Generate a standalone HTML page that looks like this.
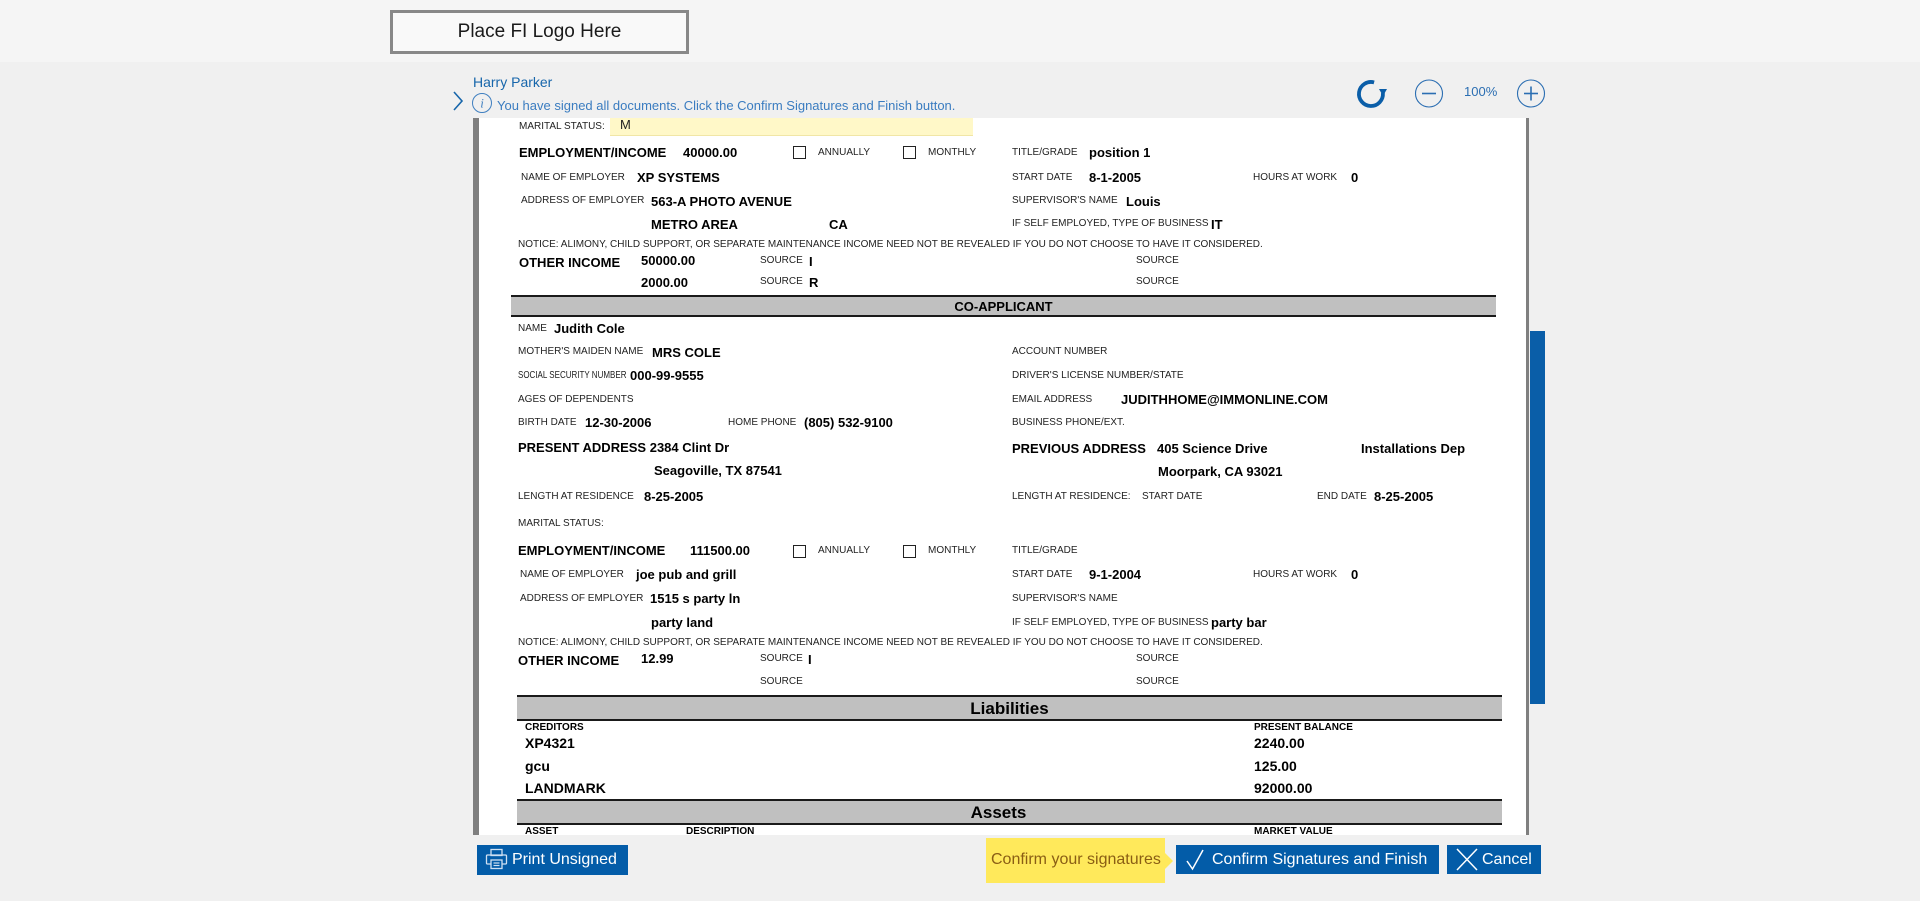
<!DOCTYPE html>
<html><head><meta charset="utf-8">
<style>
html,body{margin:0;padding:0;}
body{width:1920px;height:901px;position:relative;overflow:hidden;background:#f0f0f0;font-family:"Liberation Sans",Arial,sans-serif;}
.abs{position:absolute;white-space:nowrap;}
.l{position:absolute;white-space:nowrap;font-size:10px;line-height:10px;color:#222;}
.v{position:absolute;white-space:nowrap;font-size:13px;line-height:13px;font-weight:bold;color:#000;}
.w{position:absolute;white-space:nowrap;font-size:14px;line-height:14px;font-weight:bold;color:#000;}
.cb{position:absolute;width:13px;height:13px;box-sizing:border-box;border:1.6px solid #222;background:#fff;}
.bar{position:absolute;background:#c0c0c0;border-top:2px solid #1a1a1a;border-bottom:2px solid #1a1a1a;text-align:center;font-weight:bold;color:#000;}
.btn{position:absolute;background:#035ca8;color:#fff;font-size:16px;}
.sq{transform:scaleX(0.8);transform-origin:0 0;}
</style></head>
<body>
<!-- header -->
<div class="abs" style="left:0;top:0;width:1920px;height:62px;background:#f5f5f5;"></div>
<div class="abs" style="left:390px;top:10px;width:293px;height:38px;border:3px solid #888;background:#f9f9f9;text-align:center;font-size:19px;line-height:38px;color:#1a1a1a;">Place FI Logo Here</div>

<!-- user/title -->
<div class="abs" style="left:473px;top:74px;font-size:14px;line-height:16px;color:#1766ab;">Harry Parker</div>
<svg class="abs" style="left:450px;top:90px" width="16" height="22"><polyline points="4,2 12,11 4,20" fill="none" stroke="#1766ab" stroke-width="1.6"/></svg>
<svg class="abs" style="left:471px;top:92px" width="22" height="22"><circle cx="11" cy="11" r="9.5" fill="none" stroke="#3f7fc0" stroke-width="1"/><text x="11" y="15.5" text-anchor="middle" font-family="Liberation Serif,serif" font-style="italic" font-size="13" fill="#3f7fc0">i</text></svg>
<div class="abs" style="left:497px;top:98px;font-size:13px;line-height:16px;color:#3a7cc0;">You have signed all documents. Click the Confirm Signatures and Finish button.</div>

<!-- toolbar icons -->
<svg class="abs" style="left:1350px;top:74px" width="200" height="40">
  <path d="M 1374.1 82.4 A 12 12 0 1 0 1382.9 93" transform="translate(-1350,-74)" fill="none" stroke="#0b5ea8" stroke-width="3.8"/>
  <polygon points="29,15 37,15 33,22" fill="#0b5ea8"/>
  <circle cx="79" cy="19.5" r="13.5" fill="none" stroke="#2b6eb2" stroke-width="1.1"/>
  <line x1="72" y1="19.5" x2="86" y2="19.5" stroke="#2b6eb2" stroke-width="1.6"/>
  <circle cx="181" cy="19.5" r="13.5" fill="none" stroke="#2b6eb2" stroke-width="1.1"/>
  <line x1="174" y1="19.5" x2="188" y2="19.5" stroke="#2b6eb2" stroke-width="1.6"/>
  <line x1="181" y1="12.5" x2="181" y2="26.5" stroke="#2b6eb2" stroke-width="1.6"/>
</svg>
<div class="abs" style="left:1464px;top:85px;font-size:13px;line-height:14px;color:#2b6eb2;">100%</div>

<!-- document viewport -->
<div class="abs" style="left:473px;top:118px;width:6px;height:717px;background:#7f7f7f;"></div>
<div class="abs" style="left:479px;top:118px;width:1047px;height:717px;background:#fff;"></div>
<div class="abs" style="left:1526px;top:118px;width:3px;height:717px;background:#7f7f7f;"></div>
<div class="abs" style="left:1530px;top:331px;width:15px;height:373px;background:#0a5ea8;"></div>

<div style="position:absolute;left:0;top:0;width:1920px;height:901px;clip-path:inset(118px 394px 66px 479px);">
<!-- section 1 -->
<span class="l" style="left:519px;top:122px">MARITAL STATUS:</span>
<div class="abs" style="left:610px;top:118px;width:363px;height:17px;background:#fff8c8;border-bottom:1px solid #f1e6a6;"></div>
<span class="abs" style="left:620px;top:118px;font-size:13px;line-height:14px;color:#222;">M</span>

<span class="v" style="left:519px;top:146px">EMPLOYMENT/INCOME</span>
<span class="v" style="left:683px;top:146px">40000.00</span>
<div class="cb" style="left:793px;top:146px"></div>
<span class="l" style="left:818px;top:148px">ANNUALLY</span>
<div class="cb" style="left:903px;top:146px"></div>
<span class="l" style="left:928px;top:148px">MONTHLY</span>
<span class="l" style="left:1012px;top:148px">TITLE/GRADE</span>
<span class="v" style="left:1089px;top:146px">position 1</span>

<span class="l" style="left:521px;top:173px">NAME OF EMPLOYER</span>
<span class="v" style="left:637px;top:171px">XP SYSTEMS</span>
<span class="l" style="left:1012px;top:173px">START DATE</span>
<span class="v" style="left:1089px;top:171px">8-1-2005</span>
<span class="l" style="left:1253px;top:173px">HOURS AT WORK</span>
<span class="v" style="left:1351px;top:171px">0</span>

<span class="l" style="left:521px;top:196px">ADDRESS OF EMPLOYER</span>
<span class="v" style="left:651px;top:195px">563-A PHOTO AVENUE</span>
<span class="l" style="left:1012px;top:196px">SUPERVISOR'S NAME</span>
<span class="v" style="left:1126px;top:195px">Louis</span>

<span class="v" style="left:651px;top:218px">METRO AREA</span>
<span class="v" style="left:829px;top:218px">CA</span>
<span class="l" style="left:1012px;top:219px">IF SELF EMPLOYED, TYPE OF BUSINESS</span>
<span class="v" style="left:1211px;top:218px">IT</span>

<span class="l" style="left:518px;top:240px">NOTICE: ALIMONY, CHILD SUPPORT, OR SEPARATE MAINTENANCE INCOME NEED NOT BE REVEALED IF YOU DO NOT CHOOSE TO HAVE IT CONSIDERED.</span>

<span class="v" style="left:519px;top:256px">OTHER INCOME</span>
<span class="v" style="left:641px;top:254px">50000.00</span>
<span class="l" style="left:760px;top:256px">SOURCE</span>
<span class="v" style="left:809px;top:255px">I</span>
<span class="l" style="left:1136px;top:256px">SOURCE</span>

<span class="v" style="left:641px;top:276px">2000.00</span>
<span class="l" style="left:760px;top:277px">SOURCE</span>
<span class="v" style="left:809px;top:276px">R</span>
<span class="l" style="left:1136px;top:277px">SOURCE</span>

<div class="bar" style="left:511px;top:295px;width:985px;height:18px;font-size:13px;line-height:19px;">CO-APPLICANT</div>

<!-- section 2 -->
<span class="l" style="left:518px;top:324px">NAME</span>
<span class="v" style="left:554px;top:322px">Judith Cole</span>

<span class="l" style="left:518px;top:347px">MOTHER'S MAIDEN NAME</span>
<span class="v" style="left:652px;top:346px">MRS COLE</span>
<span class="l" style="left:1012px;top:347px">ACCOUNT NUMBER</span>

<span class="l sq" style="left:518px;top:371px">SOCIAL SECURITY NUMBER</span>
<span class="v" style="left:630px;top:369px">000-99-9555</span>
<span class="l" style="left:1012px;top:371px">DRIVER'S LICENSE NUMBER/STATE</span>

<span class="l" style="left:518px;top:395px">AGES OF DEPENDENTS</span>
<span class="l" style="left:1012px;top:395px">EMAIL ADDRESS</span>
<span class="v" style="left:1121px;top:393px">JUDITHHOME@IMMONLINE.COM</span>

<span class="l" style="left:518px;top:418px">BIRTH DATE</span>
<span class="v" style="left:585px;top:416px">12-30-2006</span>
<span class="l" style="left:728px;top:418px">HOME PHONE</span>
<span class="v" style="left:804px;top:416px">(805) 532-9100</span>
<span class="l" style="left:1012px;top:418px">BUSINESS PHONE/EXT.</span>

<span class="v" style="left:518px;top:441px">PRESENT ADDRESS 2384 Clint Dr</span>
<span class="v" style="left:1012px;top:442px">PREVIOUS ADDRESS</span>
<span class="v" style="left:1157px;top:442px">405 Science Drive</span>
<span class="v" style="left:1361px;top:442px">Installations Dep</span>

<span class="v" style="left:654px;top:464px">Seagoville, TX 87541</span>
<span class="v" style="left:1158px;top:465px">Moorpark, CA 93021</span>

<span class="l" style="left:518px;top:492px">LENGTH AT RESIDENCE</span>
<span class="v" style="left:644px;top:490px">8-25-2005</span>
<span class="l" style="left:1012px;top:492px">LENGTH AT RESIDENCE:</span>
<span class="l" style="left:1142px;top:492px">START DATE</span>
<span class="l" style="left:1317px;top:492px">END DATE</span>
<span class="v" style="left:1374px;top:490px">8-25-2005</span>

<span class="l" style="left:518px;top:519px">MARITAL STATUS:</span>

<!-- section 3 -->
<span class="v" style="left:518px;top:544px">EMPLOYMENT/INCOME</span>
<span class="v" style="left:690px;top:544px">111500.00</span>
<div class="cb" style="left:793px;top:545px"></div>
<span class="l" style="left:818px;top:546px">ANNUALLY</span>
<div class="cb" style="left:903px;top:545px"></div>
<span class="l" style="left:928px;top:546px">MONTHLY</span>
<span class="l" style="left:1012px;top:546px">TITLE/GRADE</span>

<span class="l" style="left:520px;top:570px">NAME OF EMPLOYER</span>
<span class="v" style="left:636px;top:568px">joe pub and grill</span>
<span class="l" style="left:1012px;top:570px">START DATE</span>
<span class="v" style="left:1089px;top:568px">9-1-2004</span>
<span class="l" style="left:1253px;top:570px">HOURS AT WORK</span>
<span class="v" style="left:1351px;top:568px">0</span>

<span class="l" style="left:520px;top:594px">ADDRESS OF EMPLOYER</span>
<span class="v" style="left:650px;top:592px">1515 s party ln</span>
<span class="l" style="left:1012px;top:594px">SUPERVISOR'S NAME</span>

<span class="v" style="left:651px;top:616px">party land</span>
<span class="l" style="left:1012px;top:618px">IF SELF EMPLOYED, TYPE OF BUSINESS</span>
<span class="v" style="left:1211px;top:616px">party bar</span>

<span class="l" style="left:518px;top:638px">NOTICE: ALIMONY, CHILD SUPPORT, OR SEPARATE MAINTENANCE INCOME NEED NOT BE REVEALED IF YOU DO NOT CHOOSE TO HAVE IT CONSIDERED.</span>

<span class="v" style="left:518px;top:654px">OTHER INCOME</span>
<span class="v" style="left:641px;top:652px">12.99</span>
<span class="l" style="left:760px;top:654px">SOURCE</span>
<span class="v" style="left:808px;top:653px">I</span>
<span class="l" style="left:1136px;top:654px">SOURCE</span>
<span class="l" style="left:760px;top:677px">SOURCE</span>
<span class="l" style="left:1136px;top:677px">SOURCE</span>

<!-- liabilities -->
<div class="bar" style="left:517px;top:695px;width:985px;height:22px;font-size:17px;line-height:23px;">Liabilities</div>
<span class="l" style="left:525px;top:723px;font-weight:bold;color:#000;">CREDITORS</span>
<span class="l" style="left:1254px;top:723px;font-weight:bold;color:#000;">PRESENT BALANCE</span>
<span class="w" style="left:525px;top:736px">XP4321</span>
<span class="w" style="left:1254px;top:736px">2240.00</span>
<span class="w" style="left:525px;top:759px">gcu</span>
<span class="w" style="left:1254px;top:759px">125.00</span>
<span class="w" style="left:525px;top:781px">LANDMARK</span>
<span class="w" style="left:1254px;top:781px">92000.00</span>

<div class="bar" style="left:517px;top:799px;width:985px;height:22px;font-size:17px;line-height:23px;"><span style="position:relative;left:-11px">Assets</span></div>
<span class="l" style="left:525px;top:827px;font-weight:bold;color:#000;">ASSET</span>
<span class="l" style="left:686px;top:827px;font-weight:bold;color:#000;">DESCRIPTION</span>
<span class="l" style="left:1254px;top:827px;font-weight:bold;color:#000;">MARKET VALUE</span>
</div>

<!-- bottom buttons -->
<div class="btn" style="left:477px;top:845px;width:151px;height:30px;">
  <svg style="position:absolute;left:8px;top:3px" width="23" height="22">
    <rect x="6" y="1.5" width="11" height="6" fill="none" stroke="#cfe0f2" stroke-width="1.3"/>
    <rect x="1.5" y="7" width="20" height="9" rx="1" fill="none" stroke="#cfe0f2" stroke-width="1.3"/>
    <rect x="6" y="12" width="11" height="8.5" fill="#035ca8" stroke="#cfe0f2" stroke-width="1.3"/>
    <line x1="8.5" y1="15" x2="14.5" y2="15" stroke="#cfe0f2" stroke-width="1.2"/>
    <line x1="8.5" y1="17.5" x2="14.5" y2="17.5" stroke="#cfe0f2" stroke-width="1.2"/>
  </svg>
  <span style="position:absolute;left:35px;top:6px;line-height:18px;">Print Unsigned</span>
</div>

<div class="abs" style="left:986px;top:838px;width:179px;height:45px;background:#ffe95b;"></div>
<svg class="abs" style="left:1165px;top:852px" width="10" height="18"><polygon points="0,1 8,9 0,17" fill="#ffe95b"/></svg>
<div class="abs" style="left:991px;top:851px;font-size:16px;line-height:18px;color:#8a5e14;">Confirm your signatures</div>

<div class="btn" style="left:1176px;top:845px;width:263px;height:29px;">
  <svg style="position:absolute;left:9px;top:3px" width="22" height="24"><polyline points="2,13 7.5,21 18,2" fill="none" stroke="#fff" stroke-width="1.5"/></svg>
  <span style="position:absolute;left:36px;top:6px;line-height:18px;">Confirm Signatures and Finish</span>
</div>

<div class="btn" style="left:1447px;top:845px;width:94px;height:29px;">
  <svg style="position:absolute;left:9px;top:3px" width="22" height="24"><line x1="1" y1="1" x2="21" y2="22" stroke="#fff" stroke-width="1.5"/><line x1="21" y1="1" x2="1" y2="22" stroke="#fff" stroke-width="1.5"/></svg>
  <span style="position:absolute;left:35px;top:6px;line-height:18px;">Cancel</span>
</div>
</body></html>
